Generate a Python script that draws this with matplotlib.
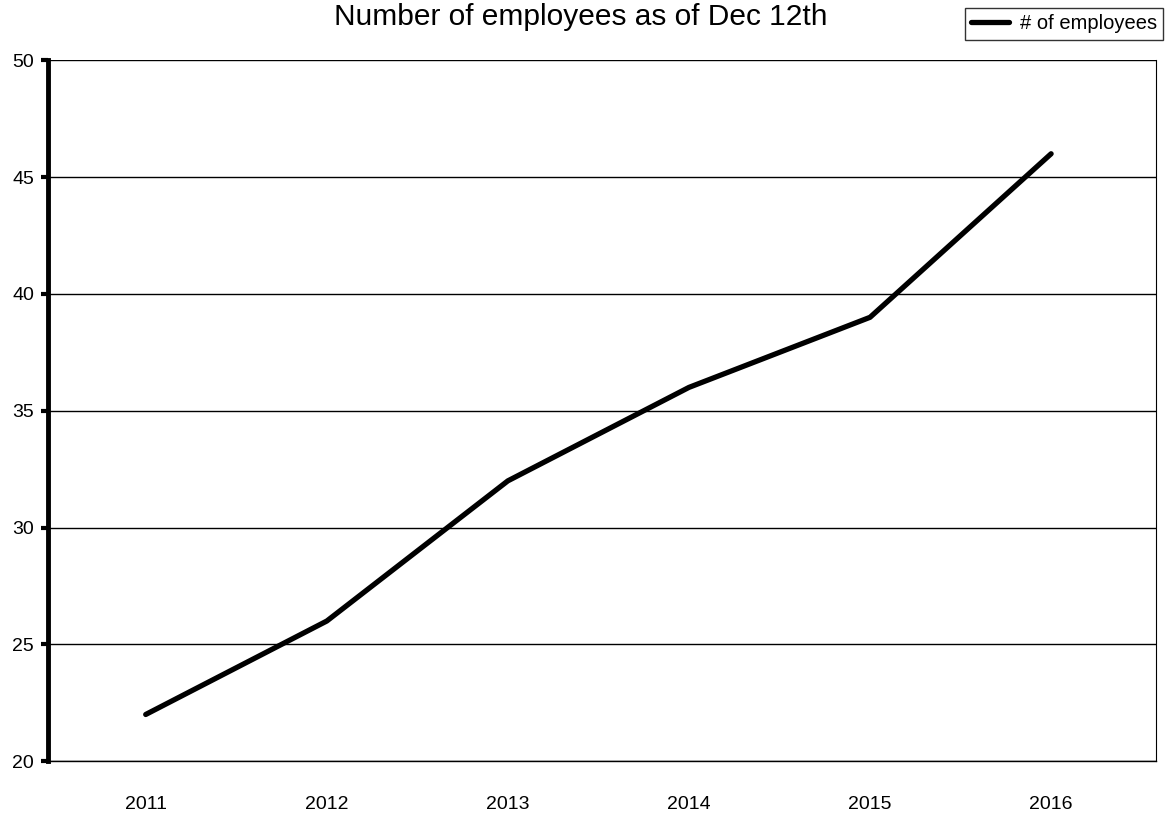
import matplotlib
matplotlib.use("Agg")
from matplotlib import pyplot as plt

years = ["2011", "2012", "2013", "2014", "2015", "2016"]
employees = [22, 26, 32, 36, 39, 46]
y_ticks = [20, 25, 30, 35, 40, 45, 50]

plt.rcParams['font.family'] = ['Liberation Sans', 'DejaVu Sans']

fig = plt.figure(figsize=(11.69, 8.15), dpi=100)
ax = fig.add_axes([0.041, 0.066, 0.948, 0.86])

x = list(range(len(years)))
ax.plot(x, employees, color='black', linewidth=3.8, solid_capstyle='round',
        solid_joinstyle='round', label='# of employees', zorder=3)

ax.set_ylim(20, 50)
ax.set_xlim(-0.54, 5.58)
ax.set_yticks(y_ticks)
ax.set_yticklabels([str(v) for v in y_ticks], fontsize=14)
ax.set_xticks(x)
ax.set_xticklabels(years, fontsize=14)

# only horizontal grid lines
ax.grid(axis='y', color='black', linewidth=1.0)
ax.set_axisbelow(True)

ax.spines['left'].set_linewidth(3.5)
ax.spines['top'].set_visible(False)
ax.spines['bottom'].set_linewidth(1.0)
ax.spines['right'].set_linewidth(0.8)
ax.spines['right'].set_linestyle((0, (2, 1)))

ax.tick_params(axis='y', direction='out', length=5, width=3, pad=5)
ax.tick_params(axis='x', length=0, pad=25)

# title sits right at the top edge, like the scan
fig.text(0.497, 1 - 25 / 815, 'Number of employees as of Dec 12th',
         ha='center', va='baseline', fontsize=21.5)

leg = ax.legend(loc='upper right', bbox_to_anchor=(1.0063, 1.074),
                fontsize=14.5, frameon=True, fancybox=False,
                handlelength=1.9, handletextpad=0.55, borderpad=0.3,
                borderaxespad=0)
leg.get_frame().set_edgecolor('black')
leg.get_frame().set_linewidth(1.0)

fig.savefig('out.png', dpi=100)
